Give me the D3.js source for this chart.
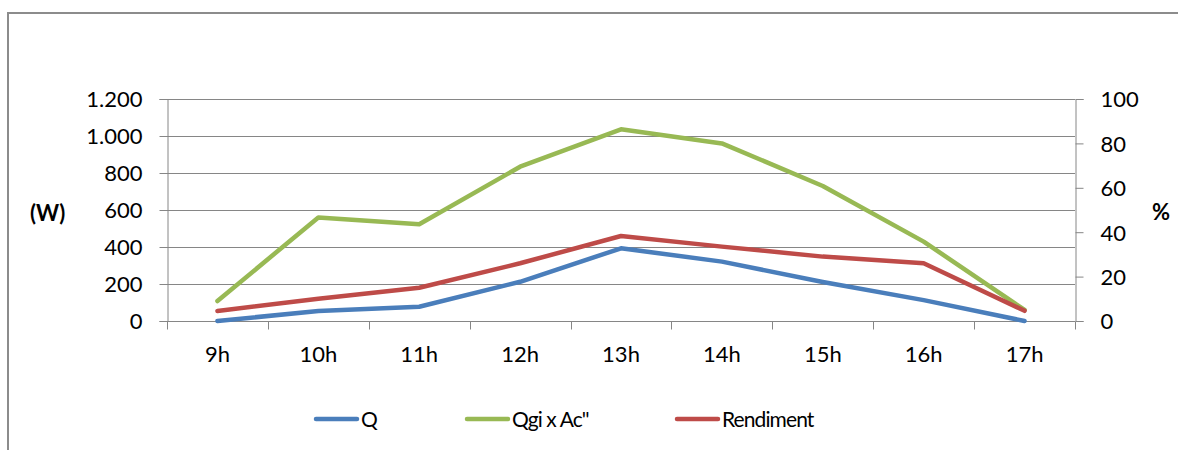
<!DOCTYPE html>
<html>
<head>
<meta charset="utf-8">
<script src="https://cdn.jsdelivr.net/npm/d3@7"></script>
<style>
  html, body { margin: 0; padding: 0; background: #fff; overflow: hidden; }
  svg { display: block; font-family: Lato, "Open Sans", sans-serif; }
</style>
</head>
<body>
<svg id="chart" width="1178" height="450"></svg>
<script>
// Hourly categories
const hours = ["9h", "10h", "11h", "12h", "13h", "14h", "15h", "16h", "17h"];
// Useful power Q (W), left axis
const qValues = [0, 54, 77, 212, 393, 321, 211, 113, 0];
// Incident power Qgi x Ac" (W), left axis
const qgiValues = [108, 560, 523, 834, 1036, 960, 730, 429, 60];
// Efficiency (%), right axis
const rendimentValues = [4.5, 10, 15, 26, 38.3, 33.5, 29, 26, 4.6];

const leftTicks = [0, 200, 400, 600, 800, 1000, 1200];
const rightTicks = [0, 20, 40, 60, 80, 100];

const colors = { q: "#4a7ebb", qgi: "#98b954", rend: "#be4b48" };
const gridColor = "#868686";

const svg = d3.select("#chart");

// Outer chart frame (extends past the right and bottom edges)
svg.append("rect")
  .attr("x", 8).attr("y", 13)
  .attr("width", 1300).attr("height", 600)
  .attr("fill", "none").attr("stroke", "#8c8c8c").attr("stroke-width", 2);

const plot = { left: 167, right: 1075, top: 99, bottom: 321 };

const x = d3.scaleBand().domain(hours).range([plot.left, plot.right]).padding(0);
const yL = d3.scaleLinear().domain([0, 1200]).range([plot.bottom, plot.top]);
const yR = d3.scaleLinear().domain([0, 100]).range([plot.bottom, plot.top]);

const fmtDots = v => d3.format(",")(v).replace(/,/g, ".");

// Horizontal gridlines
svg.append("g").selectAll("line").data(leftTicks).join("line")
  .attr("x1", plot.left).attr("x2", plot.right)
  .attr("y1", d => Math.round(yL(d)) + 0.5).attr("y2", d => Math.round(yL(d)) + 0.5)
  .attr("stroke", gridColor).attr("stroke-width", 1);

// Left axis
const gL = svg.append("g").attr("transform", `translate(${plot.left + 0.5},0)`)
  .call(d3.axisLeft(yL).tickValues(leftTicks).tickFormat(fmtDots).tickSize(8).tickPadding(17));
// Right axis
const gR = svg.append("g").attr("transform", `translate(${plot.right + 0.5},0)`)
  .call(d3.axisRight(yR).tickValues(rightTicks).tickSize(8).tickPadding(17));
// Bottom category axis with ticks at band boundaries
const boundaries = hours.map(h => x(h)).concat([plot.right]);
const gB = svg.append("g").attr("transform", `translate(0,${plot.bottom + 0.5})`)
  .call(d3.axisBottom(x).tickSize(0).tickPadding(25));
gB.selectAll(".bnd").data(boundaries).join("line").attr("class", "bnd")
  .attr("x1", d => Math.round(d) + 0.5).attr("x2", d => Math.round(d) + 0.5)
  .attr("y1", 0).attr("y2", 8);

[gL, gR, gB].forEach(g => {
  g.select(".domain").attr("stroke", gridColor).attr("stroke-width", 1);
  g.selectAll("line").attr("stroke", gridColor).attr("stroke-width", 1);
  g.selectAll("text").attr("fill", "#000").style("font-size", "22px")
    .style("font-family", "Lato, 'Open Sans', sans-serif");
});
gL.selectAll(".tick text").attr("dy", "0.36em");
gR.selectAll(".tick text").attr("dy", "0.36em");
gB.select(".domain").attr("d", `M${plot.left},0H${plot.right}`);

// Axis titles
svg.append("text").attr("x", 30).attr("y", 221)
  .style("font-size", "22px").style("font-weight", "bold").text("(W)");
svg.append("text").attr("x", 1152).attr("y", 220)
  .style("font-size", "22px").style("font-weight", "bold").text("%");

// Series lines
const cx = h => x(h) + x.bandwidth() / 2;
const lineL = d3.line().x((d, i) => cx(hours[i])).y(d => yL(d));
const lineR = d3.line().x((d, i) => cx(hours[i])).y(d => yR(d));

const series = [
  { name: "Q", values: qValues, line: lineL, color: colors.q },
  { name: "Qgi x Ac\"", values: qgiValues, line: lineL, color: colors.qgi },
  { name: "Rendiment", values: rendimentValues, line: lineR, color: colors.rend }
];

svg.append("g").selectAll("path").data(series).join("path")
  .attr("d", s => s.line(s.values))
  .attr("fill", "none").attr("stroke", s => s.color)
  .attr("stroke-width", 4.5).attr("stroke-linejoin", "round").attr("stroke-linecap", "round");

// Legend
const legendX = [316, 467, 677];
const lg = svg.append("g").selectAll("g").data(series).join("g")
  .attr("transform", (s, i) => `translate(${legendX[i]},419)`);
lg.append("line").attr("x1", 0).attr("x2", 41).attr("y1", 0).attr("y2", 0)
  .attr("stroke", s => s.color).attr("stroke-width", 4.5).attr("stroke-linecap", "round");
lg.append("text").attr("x", 45).attr("y", 8)
  .style("font-size", "21px").style("letter-spacing", "-0.9px").text(s => s.name);
</script>
</body>
</html>
